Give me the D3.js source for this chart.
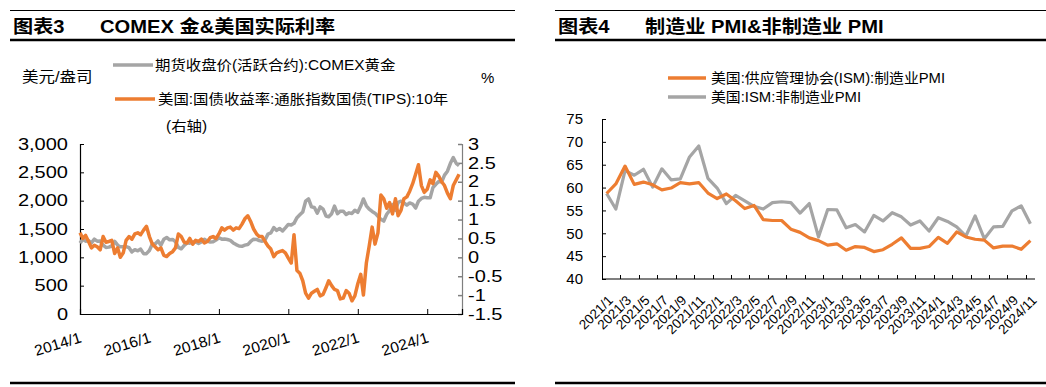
<!DOCTYPE html>
<html>
<head>
<meta charset="utf-8">
<script src="https://cdn.jsdelivr.net/npm/d3@7"></script>
<style>
  body { margin: 0; background: #fff; }
  svg { display: block; font-family: "Liberation Sans", "Noto Sans CJK SC", sans-serif; }
  .axis text { fill: #000; }
</style>
</head>
<body>
<svg id="chart" width="1046" height="387"></svg>
<script>
// ---- data: left panel (monthly, 2014/1 .. 2024/12)
const goldStart = '2014-01-01';
const goldValues = [
  1250,1320,1285,1295,1255,1320,1285,1290,1215,1175,1180,1200,
  1280,1215,1185,1185,1190,1170,1095,1135,1115,1145,1065,1065,
  1120,1235,1235,1290,1215,1320,1350,1310,1315,1275,1175,1150,
  1210,1255,1250,1270,1270,1245,1270,1320,1285,1270,1275,1305,
  1345,1320,1325,1315,1300,1255,1225,1200,1195,1215,1225,1280,
  1320,1315,1295,1285,1305,1410,1430,1525,1475,1510,1465,1520,
  1580,1570,1600,1700,1750,1800,1990,2030,1890,1880,1780,1890,
  1850,1730,1715,1770,1905,1770,1815,1815,1755,1785,1775,1830,
  1795,1905,2030,1910,1850,1810,1780,1725,1670,1640,1760,1825,
  1930,1830,1970,1990,1960,1920,1960,1940,1870,1990,2040,2060,
  2050,2050,2230,2290,2340,2330,2450,2520,2660,2760,2660,2620
];
const tipsValues = [
  0.65,0.50,0.58,0.42,0.25,0.32,0.28,0.20,0.55,0.40,0.42,0.45,
  0.10,0.25,0.00,0.12,0.45,0.55,0.48,0.62,0.65,0.60,0.72,0.82,
  0.55,0.35,0.28,0.20,0.25,0.05,0.02,0.10,0.15,0.25,0.62,0.55,
  0.40,0.38,0.50,0.35,0.45,0.42,0.48,0.38,0.42,0.52,0.55,0.50,
  0.62,0.78,0.72,0.78,0.80,0.72,0.78,0.76,0.88,1.02,1.10,0.95,
  0.75,0.62,0.55,0.55,0.42,0.30,0.22,0.02,0.12,0.15,0.18,0.12,
  -0.02,-0.15,0.60,-0.35,-0.42,-0.62,-0.95,-1.08,-0.95,-0.90,-0.85,-1.02,
  -0.98,-0.80,-0.62,-0.75,-0.85,-0.88,-1.10,-1.08,-0.88,-0.95,-1.15,-1.02,
  -0.70,-0.45,-1.00,-0.15,0.30,0.80,0.35,0.65,1.65,1.55,1.30,1.45,
  1.15,1.55,1.10,1.25,1.55,1.60,1.75,1.95,2.20,2.45,1.90,1.72,
  1.80,2.05,1.95,2.25,2.15,2.00,1.90,1.70,1.55,1.90,2.05,2.20
];
const goldTicks = [0, 500, 1000, 1500, 2000, 2500, 3000];
const tipsTicks = [-1.5, -1, -0.5, 0, 0.5, 1, 1.5, 2, 2.5, 3];
const yearTicks = ['2014-01-01', '2016-01-01', '2018-01-01', '2020-01-01', '2022-01-01', '2024-01-01'];

// ---- data: right panel (monthly, 2021/1 .. 2024/11)
const pmiMonths = [
  '2021/1','2021/2','2021/3','2021/4','2021/5','2021/6','2021/7','2021/8','2021/9','2021/10','2021/11','2021/12',
  '2022/1','2022/2','2022/3','2022/4','2022/5','2022/6','2022/7','2022/8','2022/9','2022/10','2022/11','2022/12',
  '2023/1','2023/2','2023/3','2023/4','2023/5','2023/6','2023/7','2023/8','2023/9','2023/10','2023/11','2023/12',
  '2024/1','2024/2','2024/3','2024/4','2024/5','2024/6','2024/7','2024/8','2024/9','2024/10','2024/11'
];
const mfgPmi = [
  58.7,60.8,64.7,60.7,61.2,60.6,59.5,59.9,61.1,60.8,61.1,58.8,
  57.6,58.6,57.1,55.4,56.1,53.0,52.8,52.8,50.9,50.2,49.0,48.4,
  47.4,47.7,46.3,47.1,46.9,46.0,46.4,47.6,49.0,46.7,46.7,47.1,
  49.1,47.8,50.3,49.2,48.7,48.5,46.8,47.2,47.2,46.5,48.4
];
const nonMfgPmi = [
  58.7,55.3,63.7,62.7,64.0,60.1,64.1,61.7,61.9,66.7,69.1,62.0,
  59.9,56.5,58.3,57.1,55.9,55.3,56.7,56.9,56.7,54.4,56.5,49.2,
  55.2,55.1,51.2,51.9,50.3,53.9,52.7,54.5,53.6,51.8,52.7,50.5,
  53.4,52.6,51.4,49.4,53.8,48.8,51.4,51.5,54.9,56.0,52.1
];
const pmiTicks = [40, 45, 50, 55, 60, 65, 70, 75];

const ORANGE = '#ED7D31', GREY = '#A5A5A5';
const svg = d3.select('#chart');
svg.append('rect').attr('width', 1046).attr('height', 387).attr('fill', '#fff');

// widen text horizontally (the source renders its text a bit wider)
function stretch(sel, k) {
  sel.each(function () {
    const len = this.getComputedTextLength();
    this.setAttribute('textLength', (len * k).toFixed(1));
    this.setAttribute('lengthAdjust', 'spacingAndGlyphs');
  });
  return sel;
}
function label(x, y, size, txt, k, bold) {
  const t = svg.append('text').attr('x', x).attr('y', y).attr('font-size', size).text(txt);
  if (bold) t.attr('font-weight', 'bold');
  return stretch(t, k);
}

// frame rules + titles
function frame(x0, x1, num, title, titleX) {
  svg.append('line').attr('x1', x0).attr('x2', x1).attr('y1', 10.5).attr('y2', 10.5).attr('stroke', '#000').attr('stroke-width', 1);
  svg.append('line').attr('x1', x0).attr('x2', x1).attr('y1', 40).attr('y2', 40).attr('stroke', '#000').attr('stroke-width', 2.5);
  svg.append('line').attr('x1', x0).attr('x2', x1).attr('y1', 383).attr('y2', 383).attr('stroke', '#000').attr('stroke-width', 2.5);
  label(x0 + 3, 33, 18, num, 1.12, true);
  label(titleX, 33, 18, title, 1.12, true);
}
frame(10, 515, '图表3', 'COMEX 金&美国实际利率', 100);
frame(555, 1046, '图表4', '制造业 PMI&非制造业 PMI', 645);

// ---------- left panel
const parse = d3.timeParse('%Y-%m-%d');
const months = d3.timeMonth.range(parse(goldStart), parse('2025-01-01'));
const gold = months.map((d, i) => ({ date: d, v: goldValues[i] }));
const tips = months.map((d, i) => ({ date: d, v: tipsValues[i] }));

const xL = d3.scaleTime().domain([parse('2014-01-01'), parse('2025-01-01')]).range([80, 462]);
const yL = d3.scaleLinear().domain([0, 3000]).range([314, 144]);
const yR = d3.scaleLinear().domain([-1.5, 3]).range([314, 144]);

const gL = svg.append('g');
const axL = gL.append('g').attr('class', 'axis').attr('transform', 'translate(80,0)')
  .call(d3.axisLeft(yL).tickValues(goldTicks).tickFormat(d3.format(',')).tickSize(-4).tickPadding(12));
axL.selectAll('text').attr('font-size', 16);
stretch(axL.selectAll('text'), 1.25);

const axR = gL.append('g').attr('class', 'axis').attr('transform', 'translate(462,0)')
  .call(d3.axisRight(yR).tickValues(tipsTicks).tickFormat(d => d).tickSize(-4).tickPadding(6));
axR.selectAll('line, path').attr('stroke', '#7f7f7f').attr('stroke-width', 1.5);
axR.selectAll('text').attr('font-size', 16);
stretch(axR.selectAll('text'), 1.25);

const axB = gL.append('g').attr('class', 'axis').attr('transform', 'translate(0,314)')
  .call(d3.axisBottom(xL).tickValues(yearTicks.map(parse)).tickFormat(d3.timeFormat('%Y/%-m')).tickSize(-5));
axB.selectAll('text').attr('font-size', 15).attr('text-anchor', 'end').attr('dy', 0)
  .attr('transform', 'translate(1,25) rotate(-17)');
stretch(axB.selectAll('text'), 1.05);
gL.selectAll('.axis path.domain').attr('stroke-width', 1.2);

gL.append('path').datum(gold).attr('fill', 'none').attr('stroke', GREY).attr('stroke-width', 3.5)
  .attr('stroke-linejoin', 'round').attr('d', d3.line().x(d => xL(d.date)).y(d => yL(d.v)));
gL.append('path').datum(tips).attr('fill', 'none').attr('stroke', ORANGE).attr('stroke-width', 3.5)
  .attr('stroke-linejoin', 'round').attr('d', d3.line().x(d => xL(d.date)).y(d => yR(d.v)));

// left legend + unit labels
label(22, 82, 15, '美元/盎司', 1.1);
label(481, 83, 15, '%', 1);
svg.append('line').attr('x1', 113).attr('x2', 153).attr('y1', 65).attr('y2', 65).attr('stroke', GREY).attr('stroke-width', 3.5);
label(155, 70, 14, '期货收盘价(活跃合约):COMEX黄金', 1.1);
svg.append('line').attr('x1', 115).attr('x2', 155).attr('y1', 99).attr('y2', 99).attr('stroke', ORANGE).attr('stroke-width', 3.5);
label(158, 104, 14, '美国:国债收益率:通胀指数国债(TIPS):10年', 1.1);
label(166, 131, 14, '(右轴)', 1.1);

// ---------- right panel
const xP = d3.scaleBand().domain(pmiMonths).range([602, 1035]);
const yP = d3.scaleLinear().domain([40, 75]).range([279, 119]);
const cx = m => xP(m) + xP.bandwidth() / 2;

const gR = svg.append('g');
const axY = gR.append('g').attr('class', 'axis').attr('transform', 'translate(602,0)')
  .call(d3.axisLeft(yP).tickValues(pmiTicks).tickSize(-4).tickPadding(19));
axY.selectAll('text').attr('font-size', 15);
const labelMonths = pmiMonths.filter((m, i) => i % 2 === 0);
const axP = gR.append('g').attr('class', 'axis').attr('transform', 'translate(0,279)')
  .call(d3.axisBottom(xP).tickValues(labelMonths).tickSize(0));
axP.select('.domain').attr('d', 'M602,0H1035').attr('stroke-width', 1.2);
axP.selectAll('text').attr('text-anchor', 'end').attr('dy', 0).attr('font-size', 13.5)
  .attr('transform', 'translate(5,20) rotate(-45)');
// tick marks on every second category boundary
gR.append('g').selectAll('line')
  .data(pmiMonths.filter((m, i) => i > 0 && i % 2 === 0))
  .join('line')
  .attr('x1', d => Math.round(xP(d)) + 0.5).attr('x2', d => Math.round(xP(d)) + 0.5)
  .attr('y1', 279).attr('y2', 275).attr('stroke', '#000');

const lineP = d3.line().x((d, i) => cx(pmiMonths[i])).y(d => yP(d));
gR.append('path').datum(nonMfgPmi).attr('fill', 'none').attr('stroke', GREY).attr('stroke-width', 3.2)
  .attr('stroke-linejoin', 'round').attr('d', lineP);
gR.append('path').datum(mfgPmi).attr('fill', 'none').attr('stroke', ORANGE).attr('stroke-width', 3.2)
  .attr('stroke-linejoin', 'round').attr('d', lineP);

svg.append('line').attr('x1', 668).attr('x2', 706).attr('y1', 78).attr('y2', 78).attr('stroke', ORANGE).attr('stroke-width', 3.5);
label(711, 83, 14, '美国:供应管理协会(ISM):制造业PMI', 1.06);
svg.append('line').attr('x1', 668).attr('x2', 706).attr('y1', 97).attr('y2', 97).attr('stroke', GREY).attr('stroke-width', 3.5);
label(711, 102, 14, '美国:ISM:非制造业PMI', 1.06);
</script>
</body>
</html>
